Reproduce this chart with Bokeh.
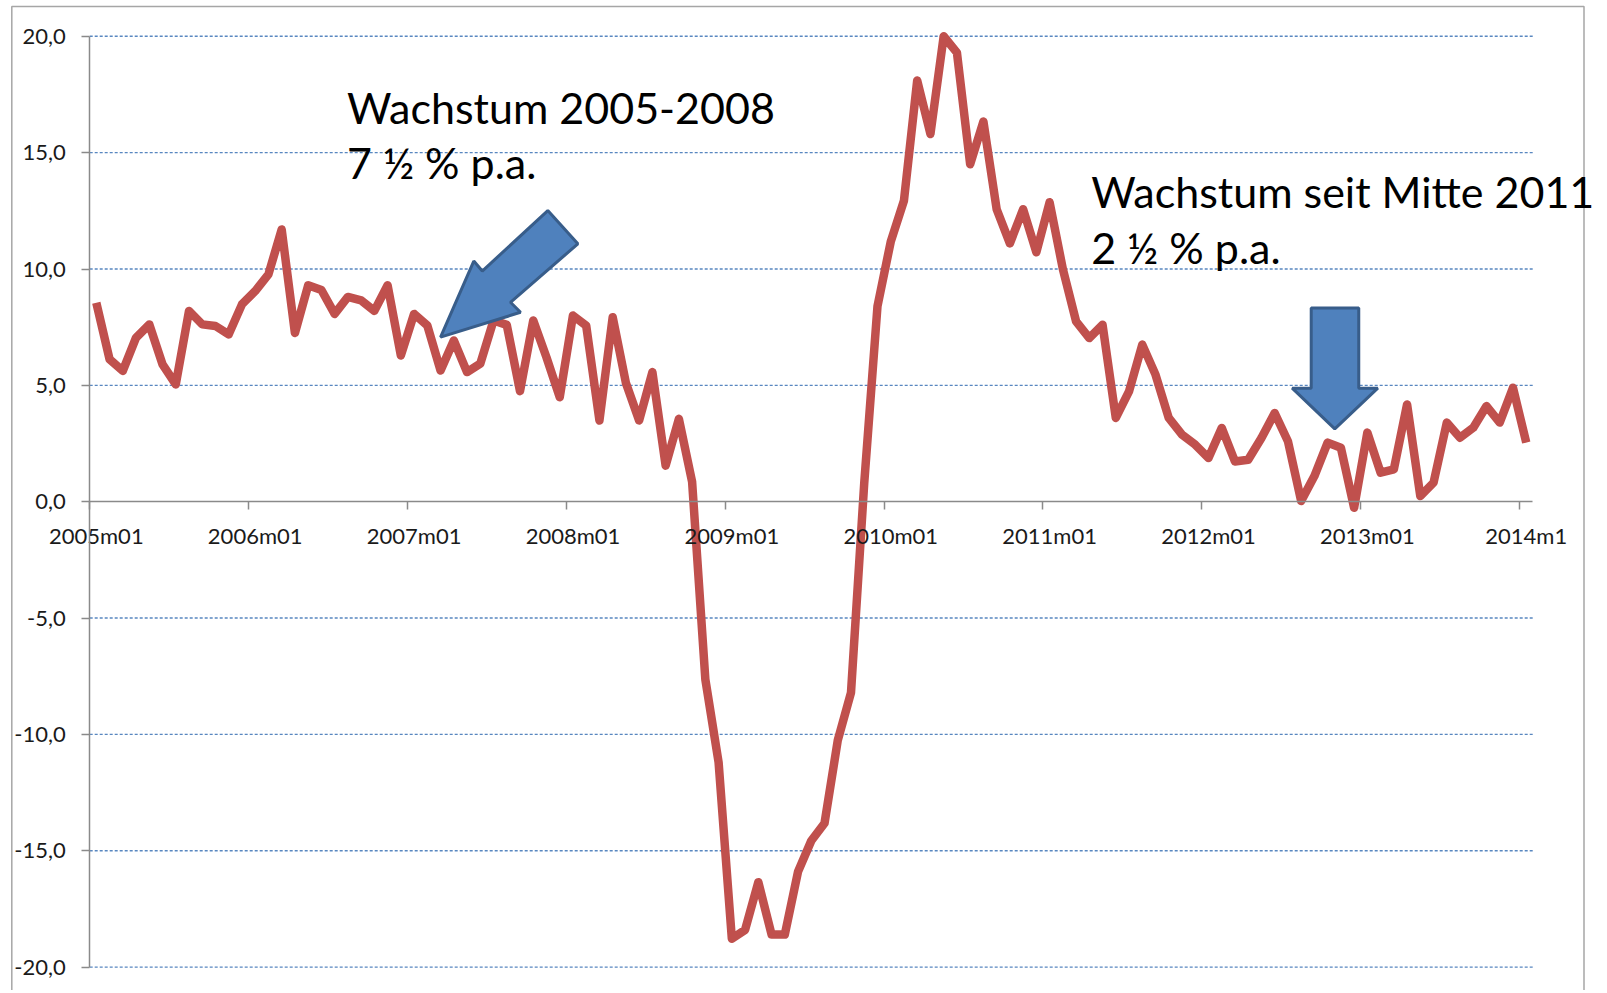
from bokeh.plotting import figure
from bokeh.models import (Range1d, FixedTicker, LinearAxis, Label, PolyAnnotation,
                          BoxAnnotation, ColumnDataSource)
from bokeh.embed import file_html
from bokeh.resources import INLINE

# ---- data -------------------------------------------------------------
months = [f"{y}m{m:02d}" for y in range(2005, 2015) for m in range(1, 13)][:109]

growth = [
    8.55, 6.12, 5.62, 7.05, 7.62, 5.90, 5.04, 8.20, 7.62, 7.55, 7.19, 8.48,   # 2005
    9.05, 9.77, 11.70, 7.25, 9.30, 9.10, 8.07, 8.80, 8.65, 8.20, 9.30, 6.28,  # 2006
    8.07, 7.57, 5.64, 6.93, 5.57, 5.93, 7.79, 7.60, 4.75, 7.79, 6.20, 4.49,   # 2007
    8.00, 7.57, 3.49, 7.93, 5.10, 3.49, 5.57, 1.55, 3.56, 0.85, -7.64, -11.20,  # 2008
    -18.78, -18.40, -16.35, -18.60, -18.60, -15.90, -14.57, -13.82, -10.26, -8.20, 0.80, 8.40,  # 2009
    11.17, 12.94, 18.10, 15.80, 20.00, 19.30, 14.50, 16.34, 12.57, 11.10, 12.57, 10.72,  # 2010
    12.87, 10.00, 7.75, 7.03, 7.60, 3.60, 4.74, 6.75, 5.46, 3.60, 2.88, 2.45,  # 2011
    1.88, 3.17, 1.73, 1.80, 2.74, 3.81, 2.60, 0.03, 1.10, 2.54, 2.32, -0.26,   # 2012
    2.97, 1.25, 1.39, 4.18, 0.24, 0.82, 3.40, 2.75, 3.18, 4.11, 3.40, 4.90,   # 2013
    2.54,                                                                     # 2014
]

x_tick_labels = ["2005m01", "2006m01", "2007m01", "2008m01", "2009m01",
                 "2010m01", "2011m01", "2012m01", "2013m01", "2014m1"]
y_ticks = [-20, -15, -10, -5, 0, 5, 10, 15, 20]
y_tick_labels = ["-20,0", "-15,0", "-10,0", "-5,0", "0,0", "5,0", "10,0", "15,0", "20,0"]

note_left = ["Wachstum 2005-2008", "7 \u00bd % p.a."]
note_right = ["Wachstum seit Mitte 2011", "2 \u00bd % p.a."]

# ---- geometry (pixels) ------------------------------------------------
W, H = 1600, 990
n = len(months)
X0_PX, PX_PER_CAT = 89.2, 13.24          # left edge of the category axis, width of a category
Y_TOP_PX, PX_PER_UNIT = 35.8, 23.27      # y = 20 position, pixels per 1.0
x_start = -0.5 - X0_PX / PX_PER_CAT
x_end = x_start + W / PX_PER_CAT
y_end = 20 + Y_TOP_PX / PX_PER_UNIT
y_start = y_end - H / PX_PER_UNIT

# ---- figure -----------------------------------------------------------
idx = list(range(n))
src = ColumnDataSource(dict(x=idx, y=growth, month=months))

p = figure(width=W, height=H, output_backend="svg", toolbar_location=None,
           x_range=Range1d(x_start, x_end), y_range=Range1d(y_start, y_end),
           x_axis_location=None, y_axis_location=None,
           min_border_left=0, min_border_right=0, min_border_top=0, min_border_bottom=0)
p.outline_line_color = None
p.background_fill_color = "white"
p.border_fill_color = "white"
p.xgrid.visible = False
p.ygrid.visible = False

GRAY = "#8a8a8a"
FONT = "Lato"

# outer chart border
p.add_layout(BoxAnnotation(left=x_start + 11.3 / PX_PER_CAT, right=x_start + 1583.5 / PX_PER_CAT,
                           top=y_end - 6.0 / PX_PER_UNIT, bottom=y_start - 2,
                           fill_color=None, line_color="#a6a6a6", line_width=1.5, line_alpha=1.0))

# horizontal dotted gridlines across the category range (zero line is the axis)
grid_y = [t for t in y_ticks if t != 0]
p.segment(x0=[-0.5] * len(grid_y), x1=[n - 0.5] * len(grid_y), y0=grid_y, y1=grid_y,
          line_color="#4F81BD", line_width=1.4, line_dash="3 2", line_alpha=0.95)

# y axis at the left edge of the category range
yax = LinearAxis(ticker=FixedTicker(ticks=y_ticks), fixed_location=-0.5, bounds=(-20, 20),
                 major_label_overrides={t: l for t, l in zip(y_ticks, y_tick_labels)})
yax.axis_line_color = GRAY
yax.axis_line_width = 1.5
yax.major_tick_line_color = GRAY
yax.major_tick_line_width = 1.5
yax.major_tick_out = 8
yax.major_tick_in = 0
yax.minor_tick_line_color = None
yax.major_label_text_font = FONT
yax.major_label_text_font_size = "22px"
yax.major_label_text_color = "#1a1a1a"
yax.major_label_standoff = 16
p.add_layout(yax, "left")

# x axis at y = 0: ticks between categories, labels centred on January
jan_pos = [i for i, m in enumerate(months) if m.endswith("m01")]
boundaries = [i - 0.5 for i in jan_pos]

xax_ticks = LinearAxis(ticker=FixedTicker(ticks=boundaries), fixed_location=0, bounds=(-0.5, n - 0.5))
xax_ticks.axis_line_color = GRAY
xax_ticks.axis_line_width = 1.5
xax_ticks.major_tick_line_color = GRAY
xax_ticks.major_tick_line_width = 1.5
xax_ticks.major_tick_out = 8
xax_ticks.major_tick_in = 0
xax_ticks.minor_tick_line_color = None
xax_ticks.major_label_text_color = None
p.add_layout(xax_ticks, "below")

xax_lab = LinearAxis(ticker=FixedTicker(ticks=jan_pos), fixed_location=0,
                     major_label_overrides={t: l for t, l in zip(jan_pos, x_tick_labels)})
xax_lab.axis_line_color = None
xax_lab.major_tick_line_color = None
xax_lab.minor_tick_line_color = None
xax_lab.major_tick_out = 0
xax_lab.major_tick_in = 0
xax_lab.major_label_standoff = 20
xax_lab.major_label_text_font = FONT
xax_lab.major_label_text_font_size = "22px"
xax_lab.major_label_text_color = "#1a1a1a"
p.add_layout(xax_lab, "below")

# the series
p.line("x", "y", source=src, line_color="#C0504D", line_width=8.5, line_join="round")

# block arrows (data coordinates)
ARROW_FILL = "#4F81BD"
ARROW_LINE = "#385D8A"
p.add_layout(PolyAnnotation(
    xs=[26.0, 28.51, 29.15, 34.1, 36.37, 31.28, 32.04],
    ys=[7.07, 10.34, 9.91, 12.51, 11.08, 8.57, 8.14],
    fill_color=ARROW_FILL, fill_alpha=1.0, line_color=ARROW_LINE, line_alpha=1.0, line_width=3))
p.add_layout(PolyAnnotation(
    xs=[91.76, 95.35, 95.35, 96.79, 93.54, 90.32, 91.76],
    ys=[8.32, 8.32, 4.88, 4.88, 3.13, 4.88, 4.88],
    fill_color=ARROW_FILL, fill_alpha=1.0, line_color=ARROW_LINE, line_alpha=1.0, line_width=3))

# annotations
for txt, yy in zip(note_left, [16.95, 14.59]):
    p.add_layout(Label(x=18.93, y=yy, text=txt, text_font=FONT, text_font_size="43px",
                       text_color="black", text_baseline="alphabetic", text_align="left"))
for txt, yy in zip(note_right, [13.34, 10.94]):
    p.add_layout(Label(x=75.14, y=yy, text=txt, text_font=FONT, text_font_size="43px",
                       text_color="black", text_baseline="alphabetic", text_align="left"))

open("out.html", "w").write(file_html(p, INLINE))
